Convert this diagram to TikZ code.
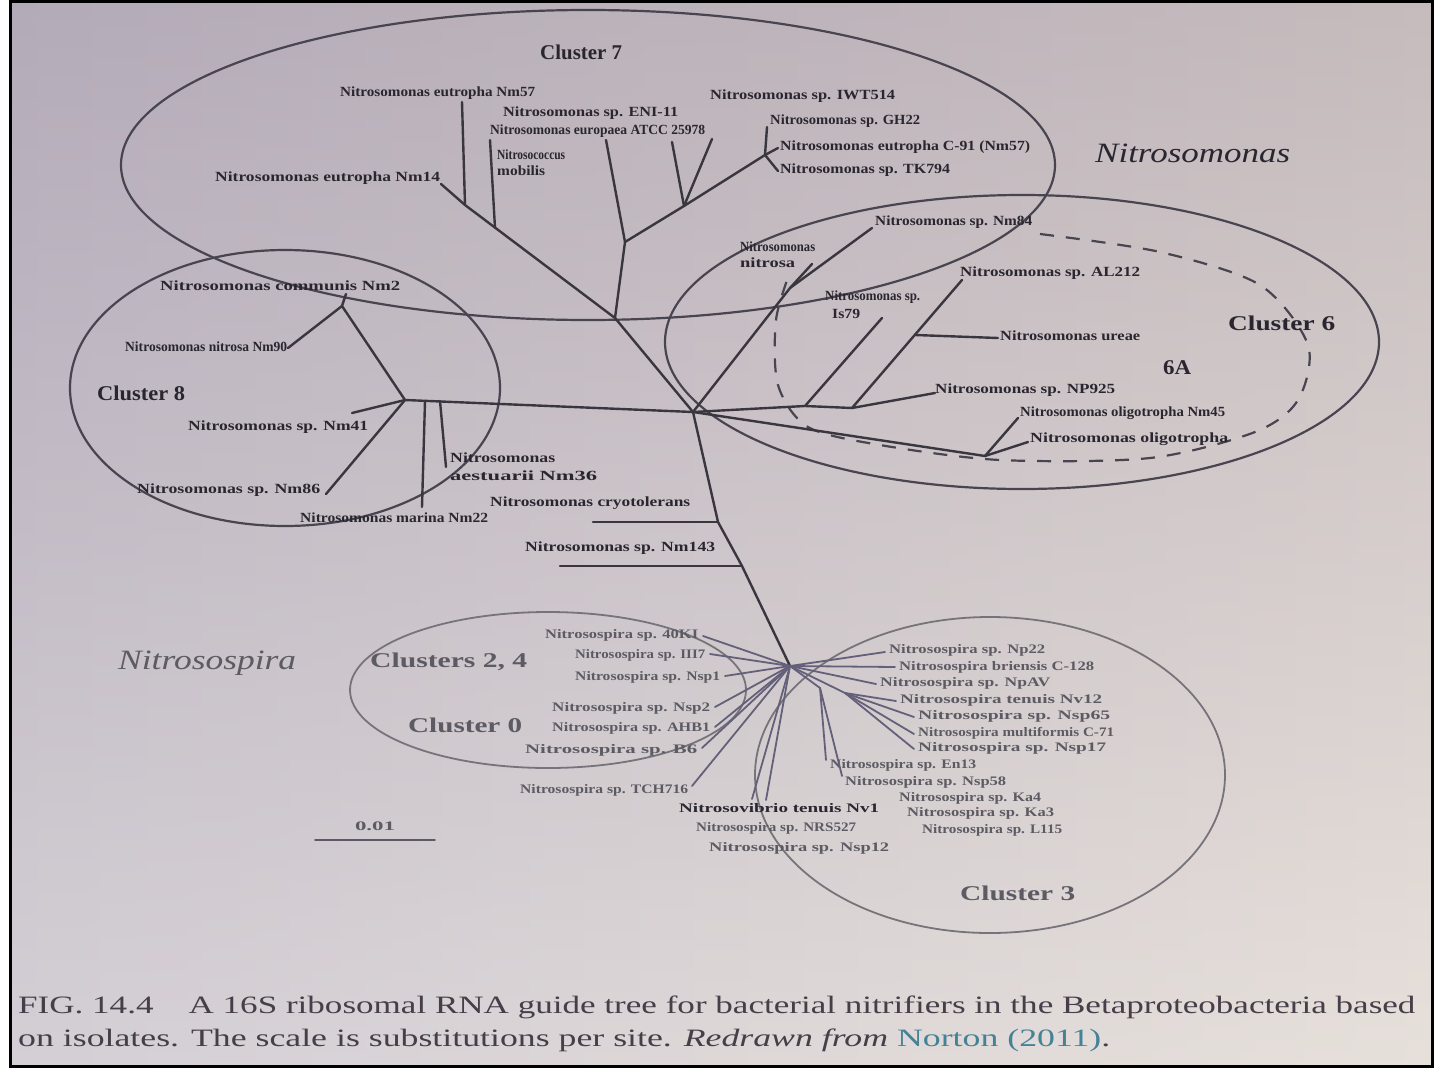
\documentclass[tikz,border=0pt]{standalone}
\usepackage{fontspec}
\setmainfont{Liberation Serif}
\usepackage{graphicx}
\definecolor{bgL}{RGB}{190,182,192}
\definecolor{bgM}{RGB}{232,230,234}
\definecolor{bgR}{RGB}{218,208,200}
\definecolor{bgT}{RGB}{160,150,170}
\definecolor{lc}{RGB}{58,54,64}
\definecolor{lcB}{RGB}{100,96,122}
\definecolor{ec}{RGB}{72,68,80}
\definecolor{ecB}{RGB}{118,116,122}
\definecolor{tcA}{RGB}{42,38,48}
\definecolor{tcB}{RGB}{92,90,98}
\definecolor{capc}{RGB}{70,62,72}
\definecolor{linkc}{RGB}{70,130,150}
\newcommand{\fitw}[2]{\resizebox{#1pt}{\height}{#2}}
\begin{document}
\begin{tikzpicture}[x=1pt,y=-1pt,
  br/.style={draw=lc, line width=2.4pt, line cap=round, line join=round},
  brB/.style={draw=lcB, line width=1.8pt, line cap=round, line join=round},
  ell/.style={draw=ec, line width=2.2pt},
  ellB/.style={draw=ecB, line width=1.8pt},
  lfA/.style={anchor=west, inner sep=0pt, text=tcA, font=\fontsize{14}{14}\selectfont\bfseries},
  lfB/.style={anchor=west, inner sep=0pt, text=tcB, font=\fontsize{13}{13}\selectfont\bfseries},
  clab/.style={anchor=west, inner sep=0pt, text=tcA, font=\fontsize{21}{21}\selectfont\bfseries},
  clabB/.style={clab, text=tcB},
  genus/.style={anchor=west, inner sep=0pt, font=\fontsize{28}{28}\selectfont\itshape},
  captext/.style={anchor=west, inner sep=0pt, text=capc, font=\fontsize{25}{25}\selectfont}]
\useasboundingbox (0,0) rectangle (1439,1070);
\fill[white] (0,0) rectangle (1439,1070);
\shade[left color=bgL, middle color=bgM, right color=bgR] (10,2) rectangle (1432,1066);
\shade[top color=bgT, bottom color=white, opacity=0.35] (10,2) rectangle (1432,1066);
\draw[line width=3pt, black] (10,2) rectangle (1432,1066);

% cluster ellipses
\draw[ell] (588,165) ellipse [x radius=467pt, y radius=155pt];
\draw[ell] (285,388) ellipse [x radius=215pt, y radius=138pt];
\draw[ell] (1022,342) ellipse [x radius=357pt, y radius=147pt];
\draw[ellB] (548,690) ellipse [x radius=198pt, y radius=78pt];
\draw[ellB] (990,775) ellipse [x radius=235pt, y radius=158pt];
\draw[ell, dash pattern=on 14pt off 12pt] plot[smooth] coordinates {(1040,234) (1160,252) (1260,285) (1308,345) (1298,400) (1255,432) (1150,458) (1000,460) (880,445) (808,427) (778,385) (776,320) (790,272)};

% ---------- labels: Cluster 7
\node[lfA] (l1) at (340,93) {\fitw{195}{Nitrosomonas eutropha Nm57}};
\node[lfA] (l2) at (710,96) {\fitw{185}{Nitrosomonas sp. IWT514}};
\node[lfA] (l3) at (503,113) {\fitw{175}{Nitrosomonas sp. ENI-11}};
\node[lfA] (l4) at (490,131) {\fitw{215}{Nitrosomonas europaea ATCC 25978}};
\node[lfA] (l5a) at (497,155) {\fitw{68}{Nitrosococcus}};
\node[lfA] (l5b) at (497,171) {\fitw{48}{mobilis}};
\node[lfA] (l6) at (770,121) {\fitw{150}{Nitrosomonas sp. GH22}};
\node[lfA] (l7) at (780,147) {\fitw{250}{Nitrosomonas eutropha C-91 (Nm57)}};
\node[lfA] (l8) at (780,170) {\fitw{170}{Nitrosomonas sp. TK794}};
\node[lfA] (l9) at (215,178) {\fitw{225}{Nitrosomonas eutropha Nm14}};
\node[clab] (c7) at (540,52) {\fitw{82}{Cluster 7}};
\node[genus, text=tcA] (gNm) at (1095,153) {\fitw{195}{Nitrosomonas}};

% ---------- labels: Cluster 6
\node[lfA] (l10) at (875,222) {\fitw{157}{Nitrosomonas sp. Nm84}};
\node[lfA] (l11a) at (740,247) {\fitw{75}{Nitrosomonas}};
\node[lfA] (l11b) at (740,263) {\fitw{55}{nitrosa}};
\node[lfA] (l12) at (960,273) {\fitw{180}{Nitrosomonas sp. AL212}};
\node[lfA] (l13a) at (825,297) {\fitw{95}{Nitrosomonas sp.}};
\node[lfA] (l13b) at (832,314) {\fitw{28}{Is79}};
\node[lfA] (l14) at (1000,336) {\fitw{140}{Nitrosomonas ureae}};
\node[lfA] (l15) at (935,390) {\fitw{180}{Nitrosomonas sp. NP925}};
\node[lfA] (l16) at (1020,413) {\fitw{205}{Nitrosomonas oligotropha Nm45}};
\node[lfA] (l17) at (1030,439) {\fitw{198}{Nitrosomonas oligotropha}};
\node[clab] (c6) at (1228,323) {\fitw{107}{Cluster 6}};
\node[clab] (c6a) at (1163,368) {\fitw{28}{6A}};

% ---------- labels: Cluster 8
\node[lfA] (l18) at (160,286) {\fitw{240}{Nitrosomonas communis Nm2}};
\node[lfA] (l19) at (125,347) {\fitw{162}{Nitrosomonas nitrosa Nm90}};
\node[lfA] (l20) at (188,427) {\fitw{180}{Nitrosomonas sp. Nm41}};
\node[lfA] (l21) at (137,490) {\fitw{183}{Nitrosomonas sp. Nm86}};
\node[lfA] (l22) at (300,518) {\fitw{188}{Nitrosomonas marina Nm22}};
\node[lfA] (l23a) at (450,458) {\fitw{105}{Nitrosomonas}};
\node[lfA] (l23b) at (450,476) {\fitw{147}{aestuarii Nm36}};
\node[lfA] (l24) at (490,503) {\fitw{200}{Nitrosomonas cryotolerans}};
\node[lfA] (l25) at (525,548) {\fitw{190}{Nitrosomonas sp. Nm143}};
\node[clab] (c8) at (97,393) {\fitw{88}{Cluster 8}};

% ---------- labels: Nitrosospira
\node[genus, text=tcB] (gNs) at (118,663) {\fitw{178}{Nitrosospira}};
\node[clabB] (c24) at (370,662) {\fitw{157}{Clusters 2, 4}};
\node[clabB] (c0) at (408,725) {\fitw{114}{Cluster 0}};
\node[clabB] (c3) at (960,893) {\fitw{115}{Cluster 3}};
\node[lfB] (l26) at (545,635) {\fitw{153}{Nitrosospira sp. 40KI}};
\node[lfB] (l27) at (575,655) {\fitw{130}{Nitrosospira sp. III7}};
\node[lfB] (l28) at (575,677) {\fitw{145}{Nitrosospira sp. Nsp1}};
\node[lfB] (l29) at (552,708) {\fitw{158}{Nitrosospira sp. Nsp2}};
\node[lfB] (l30) at (552,728) {\fitw{158}{Nitrosospira sp. AHB1}};
\node[lfB] (l31) at (525,750) {\fitw{172}{Nitrosospira sp. B6}};
\node[lfB] (l32) at (520,790) {\fitw{168}{Nitrosospira sp. TCH716}};
\node[lfB, text=tcA] (l33) at (679,808) {\fitw{200}{Nitrosovibrio tenuis Nv1}};
\node[lfB] (l34) at (696,828) {\fitw{160}{Nitrosospira sp. NRS527}};
\node[lfB] (l35) at (709,848) {\fitw{180}{Nitrosospira sp. Nsp12}};
\node[lfB] (l36) at (889,650) {\fitw{156}{Nitrosospira sp. Np22}};
\node[lfB] (l37) at (899,667) {\fitw{195}{Nitrosospira briensis C-128}};
\node[lfB] (l38) at (880,683) {\fitw{170}{Nitrosospira sp. NpAV}};
\node[lfB] (l39) at (900,700) {\fitw{202}{Nitrosospira tenuis Nv12}};
\node[lfB] (l40) at (918,716) {\fitw{192}{Nitrosospira sp. Nsp65}};
\node[lfB] (l41) at (918,733) {\fitw{196}{Nitrosospira multiformis C-71}};
\node[lfB] (l42) at (918,748) {\fitw{188}{Nitrosospira sp. Nsp17}};
\node[lfB] (l43) at (830,765) {\fitw{146}{Nitrosospira sp. En13}};
\node[lfB] (l44) at (845,782) {\fitw{161}{Nitrosospira sp. Nsp58}};
\node[lfB] (l45) at (899,798) {\fitw{142}{Nitrosospira sp. Ka4}};
\node[lfB] (l46) at (907,813) {\fitw{147}{Nitrosospira sp. Ka3}};
\node[lfB] (l47) at (922,830) {\fitw{140}{Nitrosospira sp. L115}};

% ---------- tree coordinates
\coordinate (C) at (693,412);
\coordinate (P1) at (615,318);
\coordinate (N1) at (465,205);
\coordinate (e1) at (462,102);
\coordinate (e9) at (441,184);
\coordinate (N1b) at (495,228);
\coordinate (e4) at (490,140);
\coordinate (P2) at (625,242);
\coordinate (e5) at (606,140);
\coordinate (P3) at (684,206);
\coordinate (ev1) at (672,142);
\coordinate (ev2) at (712,139);
\coordinate (P4) at (765,155);
\coordinate (e6) at (767,127);
\coordinate (e7) at (778,148);
\coordinate (e8) at (778,171);

\coordinate (Sa) at (790,288);
\coordinate (e11) at (812,264);
\coordinate (e10) at (872,228);
\coordinate (Sb) at (805,406);
\coordinate (e13) at (882,318);
\coordinate (Sc) at (852,408);
\coordinate (e12) at (962,280);
\coordinate (Sd) at (915,335);
\coordinate (e14) at (998,338);
\coordinate (e15) at (935,393);
\coordinate (Se) at (985,456);
\coordinate (e16) at (1018,418);
\coordinate (e17) at (1028,442);

\coordinate (Q1) at (405,400);
\coordinate (Q2) at (342,306);
\coordinate (e18) at (346,294);
\coordinate (e19) at (288,348);
\coordinate (e20) at (352,413);
\coordinate (e21) at (326,494);
\coordinate (Q3) at (425,401);
\coordinate (e22) at (422,507);
\coordinate (Q4) at (440,401);
\coordinate (e23) at (446,467);

\coordinate (T1) at (718,522);
\coordinate (T2) at (742,566);
\coordinate (R) at (790,666);
\coordinate (e24) at (593,522);
\coordinate (e25) at (560,566);

\coordinate (e26) at (703,636);
\coordinate (e27) at (710,654);
\coordinate (e28) at (725,676);
\coordinate (e29) at (715,707);
\coordinate (e30) at (715,727);
\coordinate (e31) at (702,748);
\coordinate (e32) at (692,786);
\coordinate (e33a) at (752,799);
\coordinate (e33b) at (766,800);
\coordinate (e36) at (885,652);
\coordinate (e37) at (895,667);
\coordinate (e38) at (876,684);
\coordinate (Rr) at (845,693);
\coordinate (e39) at (896,701);
\coordinate (e40) at (914,717);
\coordinate (e41) at (914,734);
\coordinate (e42) at (914,749);
\coordinate (Rd) at (820,688);
\coordinate (e43) at (826,760);
\coordinate (e44) at (842,776);

% ---------- branches
\draw[br] (C) -- (P1) -- (N1) -- (e1);
\draw[br] (N1) -- (e9);
\draw[br] (N1b) -- (e4);
\draw[br] (P1) -- (P2) -- (e5);
\draw[br] (P2) -- (P3) -- (P4);
\draw[br] (P3) -- (ev1);
\draw[br] (P3) -- (ev2);
\draw[br] (P4) -- (e6);
\draw[br] (P4) -- (e7);
\draw[br] (P4) -- (e8);

\draw[br] (C) -- (Sa) -- (e10);
\draw[br] (Sa) -- (e11);
\draw[br] (C) -- (Sb) -- (Sc) -- (e12);
\draw[br] (Sb) -- (e13);
\draw[br] (Sd) -- (e14);
\draw[br] (Sc) -- (e15);
\draw[br] (C) -- (Se) -- (e16);
\draw[br] (Se) -- (e17);

\draw[br] (C) -- (Q1) -- (Q2) -- (e18);
\draw[br] (Q2) -- (e19);
\draw[br] (Q1) -- (e20);
\draw[br] (Q1) -- (e21);
\draw[br] (Q3) -- (e22);
\draw[br] (Q4) -- (e23);

\draw[br] (C) -- (T1) -- (T2) -- (R);
\draw[br] (T1) -- (e24);
\draw[br] (T2) -- (e25);

\foreach \e in {e26,e27,e28,e29,e30,e31,e32,e33a,e33b,e36,e37,e38}
  \draw[brB] (R) -- (\e);
\draw[brB] (R) -- (Rr);
\foreach \e in {e39,e40,e41,e42}
  \draw[brB] (Rr) -- (\e);
\draw[brB] (R) -- (Rd);
\draw[brB] (Rd) -- (e43);
\draw[brB] (Rd) -- (e44);

% ---------- scale bar
\coordinate (sbL) at (315,840);
\coordinate (sbR) at (435,840);
\draw[brB, draw=tcB] (sbL) -- (sbR);
\node[lfB, anchor=center] (sbt) at (375,826) {\fitw{40}{0.01}};

% ---------- caption
\node[captext] (cap1) at (18,1007) {\fitw{1397}{FIG. 14.4\quad A 16S ribosomal RNA guide tree for bacterial nitrifiers in the Betaproteobacteria based}};
\node[captext] (cap2) at (18,1040) {\fitw{1092}{on isolates. The scale is substitutions per site. \textit{Redrawn from} \textcolor{linkc}{Norton (2011)}.}};
\end{tikzpicture}
\end{document}
